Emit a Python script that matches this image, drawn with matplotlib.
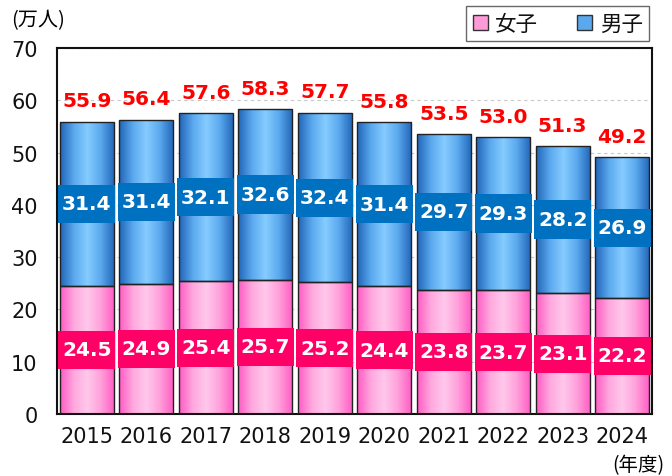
import matplotlib
matplotlib.use("Agg")
import matplotlib.pyplot as plt
import numpy as np
from matplotlib.colors import LinearSegmentedColormap
from matplotlib.patches import Patch

plt.rcParams['font.family'] = ['DejaVu Sans', 'Noto Sans CJK JP']

years = ["2015", "2016", "2017", "2018", "2019", "2020", "2021", "2022", "2023", "2024"]
female = [24.5, 24.9, 25.4, 25.7, 25.2, 24.4, 23.8, 23.7, 23.1, 22.2]
male = [31.4, 31.4, 32.1, 32.6, 32.4, 31.4, 29.7, 29.3, 28.2, 26.9]
total = [55.9, 56.4, 57.6, 58.3, 57.7, 55.8, 53.5, 53.0, 51.3, 49.2]

pink_cmap = LinearSegmentedColormap.from_list(
    "pink", ["#FF5CC4", "#FFA8DE", "#FFC8EC", "#FFA0DA", "#FF5CC4"])
blue_cmap = LinearSegmentedColormap.from_list(
    "blue", ["#2266B8", "#5AA8EE", "#86CCFF", "#5AA8EE", "#2266B8"])
grad = np.linspace(0, 1, 64).reshape(1, -1)

fig = plt.figure(figsize=(6.72, 4.77), dpi=100)
ax = fig.add_axes([0.085, 0.130, 0.885, 0.767])

x = np.arange(len(years))
width = 0.91
box_w = 0.96   # label box width (bar units)
box_h = 7.3    # label box height (value units)


def gradient_bars(bars, cmap):
    for b in bars:
        b.set_facecolor("none")
        x0, y0 = b.get_x(), b.get_y()
        im = ax.imshow(grad, cmap=cmap, aspect="auto", zorder=2,
                       extent=[x0, x0 + b.get_width(), y0, y0 + b.get_height()])
        im.set_clip_path(b)


fb = ax.bar(x, female, width, color="#FF9AD8", edgecolor="#222222", linewidth=1.0, zorder=3)
mb = ax.bar(x, male, width, bottom=female, color="#5AA8EE", edgecolor="#222222", linewidth=1.0, zorder=3)
gradient_bars(fb, pink_cmap)
gradient_bars(mb, blue_cmap)

f_mid = np.array(female) / 2
m_mid = np.array(female) + np.array(male) / 2
ax.bar(x, box_h, box_w, bottom=f_mid - box_h / 2, color="#FF0066", zorder=4)
ax.bar(x, box_h, box_w, bottom=m_mid - box_h / 2, color="#0070C0", zorder=4)

for i in range(len(years)):
    ax.text(x[i], f_mid[i], f"{female[i]:.1f}", ha="center", va="center",
            color="white", fontsize=14.5, fontweight="bold", zorder=5)
    ax.text(x[i], m_mid[i], f"{male[i]:.1f}", ha="center", va="center",
            color="white", fontsize=14.5, fontweight="bold", zorder=5)
    ax.annotate(f"{total[i]:.1f}", (x[i], total[i]), xytext=(0, 15),
                textcoords="offset points", ha="center", va="center",
                color="#FF0000", fontsize=14.5, fontweight="bold", zorder=5)

ax.set_xlim(-0.5, len(years) - 0.5)
ax.set_ylim(0, 70)
ax.set_yticks(range(0, 71, 10))
ax.set_xticks(x)
ax.set_xticklabels(years)
ax.tick_params(axis="both", length=0, labelsize=15, colors="#111111")
ax.tick_params(axis="y", pad=14)
ax.tick_params(axis="x", pad=9)
ax.yaxis.grid(True, color="#C8C8C8", linestyle=(0, (3, 3)), linewidth=0.8, zorder=0)
ax.set_axisbelow(True)
for s in ax.spines.values():
    s.set_color("#111111")
    s.set_linewidth(1.5)

fig.text(0.016, 0.957, "(万人)", fontsize=14.5, family=['Noto Sans CJK JP'], va="center")
fig.text(0.988, 0.024, "(年度)", fontsize=14, family=['Noto Sans CJK JP'], va="center", ha="right")

handles = [Patch(facecolor="#FF9AD8", edgecolor="#333333", label="女子"),
           Patch(facecolor="#5AA8EE", edgecolor="#333333", label="男子")]
leg = fig.legend(handles=handles, loc="upper right", bbox_to_anchor=(0.966, 0.985), ncol=2,
                 frameon=True, fancybox=False, edgecolor="#444444", handlelength=0.7,
                 handleheight=0.7, handletextpad=0.35, columnspacing=1.8, borderpad=0.3,
                 borderaxespad=0.0,
                 prop={"family": ["Noto Sans CJK JP"], "size": 15.5})
leg.get_frame().set_linewidth(1.0)
for t in leg.get_texts():
    t.set_color("#111111")

plt.savefig("out.png", dpi=100)
